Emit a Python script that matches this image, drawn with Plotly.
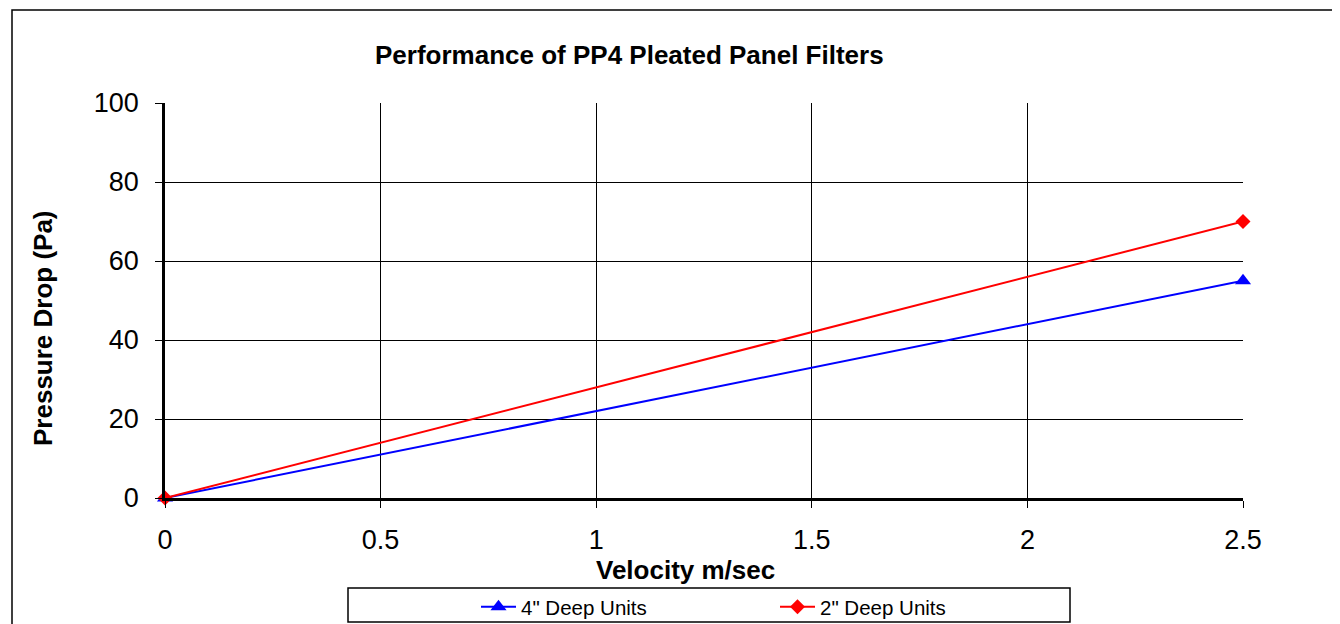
import plotly.graph_objects as go

velocity = [0, 2.5]
deep4 = [0, 55]
deep2 = [0, 70]
series_names = ['4" Deep Units', '2" Deep Units']
x_ticks = [0, 0.5, 1, 1.5, 2, 2.5]
x_tick_labels = ["0", "0.5", "1", "1.5", "2", "2.5"]
y_ticks = [0, 20, 40, 60, 80, 100]

# page pixel -> paper coordinate helpers (plot area on page: x 165..1243, y 103..498)
def px(x):
    return (x - 165) / 1078

def py(y):
    return (498 - y) / 395

fig = go.Figure()
fig.add_trace(go.Scatter(x=velocity, y=deep4, name=series_names[0], mode="lines+markers",
                         cliponaxis=False,
                         line=dict(color="#0000FF", width=2),
                         marker=dict(symbol="triangle-up", size=14, color="#0000FF")))
fig.add_trace(go.Scatter(x=velocity, y=deep2, name=series_names[1], mode="lines+markers",
                         cliponaxis=False,
                         line=dict(color="#FF0000", width=2),
                         marker=dict(symbol="diamond", size=11.5, color="#FF0000")))

fig.update_layout(
    width=1332, height=616,
    margin=dict(l=157, r=97, t=95, b=126, autoexpand=False),
    paper_bgcolor="white", plot_bgcolor="white",
    font=dict(family="Liberation Sans, Arial", color="black"),
    showlegend=True,
    legend=dict(orientation="h", x=px(775), xanchor="center", y=py(607), yanchor="middle",
                font=dict(family="Liberation Sans, Arial", size=20.5),
                entrywidth=249, itemwidth=35, bgcolor="rgba(0,0,0,0)"),
    xaxis=dict(range=[0, 2.5], tickvals=x_ticks, ticktext=x_tick_labels,
               showgrid=True, gridcolor="black", gridwidth=1,
               showline=True, linecolor="black", linewidth=3,
               ticks="outside", ticklen=7, tickcolor="black", tickwidth=1,
               tickfont=dict(size=27), zeroline=False, ticklabelstandoff=9),
    yaxis=dict(range=[0, 100], tickvals=y_ticks,
               showgrid=True, gridcolor="black", gridwidth=1,
               showline=True, linecolor="black", linewidth=2.5,
               ticks="outside", ticklen=7, tickcolor="black", tickwidth=1,
               tickfont=dict(size=27), zeroline=False, ticklabelstandoff=11),
)

fig.add_annotation(text="<b>Performance of PP4 Pleated Panel Filters</b>",
                   xref="paper", yref="paper", x=px(629), y=py(55),
                   showarrow=False, font=dict(size=26), xanchor="center", yanchor="middle")
fig.add_annotation(text="<b>Velocity m/sec</b>",
                   xref="paper", yref="paper", x=px(685), y=py(570),
                   showarrow=False, font=dict(size=26), xanchor="center", yanchor="middle")
fig.add_annotation(text="<b>Pressure Drop (Pa)</b>", textangle=-90,
                   xref="paper", yref="paper", x=px(43), y=py(328),
                   showarrow=False, font=dict(size=26), xanchor="center", yanchor="middle")

# outer chart frame
fig.add_shape(type="rect", xref="paper", yref="paper",
              x0=px(12), x1=px(1400), y0=py(700), y1=py(10),
              line=dict(color="black", width=1.5), fillcolor="rgba(0,0,0,0)", layer="below")
# legend frame
fig.add_shape(type="rect", xref="paper", yref="paper",
              x0=px(348), x1=px(1070), y0=py(622), y1=py(588),
              line=dict(color="black", width=1.5), fillcolor="rgba(0,0,0,0)", layer="below")

fig.write_html("out.html")
